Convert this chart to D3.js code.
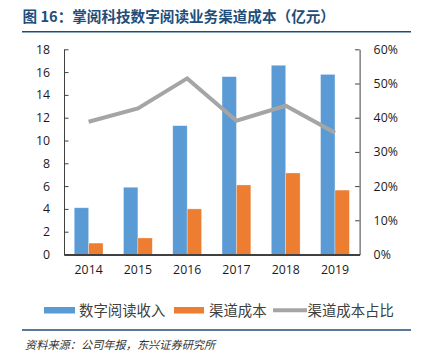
<!DOCTYPE html>
<html>
<head>
<meta charset="utf-8">
<script src="https://cdn.jsdelivr.net/npm/d3@7"></script>
<style>
  body { margin: 0; background: #fff; }
  svg { display: block; }
</style>
</head>
<body>
<div id="chart"></div>
<script>
var width = 421;
var height = 353;

// data
var years = ["2014", "2015", "2016", "2017", "2018", "2019"];
var readingIncome = [4.1, 5.9, 11.3, 15.6, 16.6, 15.8];
var channelCost = [1.0, 1.45, 4.0, 6.1, 7.15, 5.65];
var costShare = [0.388, 0.427, 0.515, 0.391, 0.435, 0.356];
var leftTicks = [0, 2, 4, 6, 8, 10, 12, 14, 16, 18];
var rightTicks = [0, 0.1, 0.2, 0.3, 0.4, 0.5, 0.6];

var seriesNames = ["数字阅读收入", "渠道成本", "渠道成本占比"];
var colors = ["#5B9BD5", "#ED7D31", "#A5A5A5"];

var plot = { left: 64, right: 359.6, top: 49.3, bottom: 254.5 };
var numFont = "'Open Sans', sans-serif";
var cjkFont = "'Noto Sans CJK SC', sans-serif";

var svg = d3
  .select("#chart")
  .append("svg")
  .attr("width", width)
  .attr("height", height);

// title + rules
svg
  .append("text")
  .attr("x", 22.5)
  .attr("y", 22)
  .attr("font-family", cjkFont)
  .attr("font-weight", "bold")
  .attr("font-size", 14.6)
  .attr("fill", "#1F4E79")
  .text("图 16：掌阅科技数字阅读业务渠道成本（亿元）");

svg.append("line")
  .attr("x1", 22).attr("x2", 411)
  .attr("y1", 31.7).attr("y2", 31.7)
  .attr("stroke", "#1F4E79").attr("stroke-width", 1.4);

svg.append("line")
  .attr("x1", 22).attr("x2", 411)
  .attr("y1", 330).attr("y2", 330)
  .attr("stroke", "#1F4E79").attr("stroke-width", 1.4);

svg
  .append("text")
  .attr("x", 25)
  .attr("y", 349)
  .attr("font-family", cjkFont)
  .attr("font-style", "italic")
  .attr("font-size", 11.2)
  .attr("fill", "#333")
  .text("资料来源：公司年报，东兴证券研究所");

// scales
var x = d3.scaleBand().domain(years).range([plot.left, plot.right]).padding(0);
var xInner = d3.scaleBand().domain([0, 1]).range([-14.4, 14.4]);
var yLeft = d3.scaleLinear().domain([0, 18]).range([plot.bottom, plot.top]);
var yRight = d3.scaleLinear().domain([0, 0.6]).range([plot.bottom, plot.top]);

// bars
var barData = [readingIncome, channelCost];
barData.forEach(function(values, s) {
  svg
    .selectAll(".bar" + s)
    .data(values)
    .enter()
    .append("rect")
    .attr("class", "bar" + s)
    .attr("x", function(d, i) {
      return x(years[i]) + x.bandwidth() / 2 + xInner(s);
    })
    .attr("width", xInner.bandwidth())
    .attr("y", function(d) { return yLeft(d); })
    .attr("height", function(d) { return yLeft(0) - yLeft(d); })
    .attr("fill", colors[s])
    .attr("stroke", "#fff")
    .attr("stroke-opacity", 0.5)
    .attr("stroke-width", 0.6);
});

// line
var line = d3
  .line()
  .x(function(d, i) { return x(years[i]) + x.bandwidth() / 2; })
  .y(function(d) { return yRight(d); });

svg
  .append("path")
  .datum(costShare)
  .attr("d", line)
  .attr("fill", "none")
  .attr("stroke", colors[2])
  .attr("stroke-width", 4);

// axes
var leftAxis = svg
  .append("g")
  .attr("transform", "translate(" + plot.left + ",0)")
  .call(d3.axisLeft(yLeft).tickValues(leftTicks).tickSizeInner(-4.5).tickSizeOuter(0).tickPadding(14));

var rightAxis = svg
  .append("g")
  .attr("transform", "translate(" + plot.right + ",0)")
  .call(d3.axisRight(yRight).tickValues(rightTicks).tickFormat(d3.format(".0%")).tickSizeInner(-4.5).tickSizeOuter(0).tickPadding(14));

var bottomAxis = svg
  .append("g")
  .attr("transform", "translate(0," + plot.bottom + ")")
  .call(d3.axisBottom(x).tickSize(0).tickPadding(11));

[leftAxis, rightAxis, bottomAxis].forEach(function(g) {
  g.selectAll("path, line").attr("stroke", "#404040");
  g.selectAll("text")
    .attr("font-family", numFont)
    .attr("font-size", 12.3)
    .attr("fill", "#1a1a1a");
});
bottomAxis.select(".domain").attr("stroke-width", 1.8);

// legend
var legend = svg.append("g").attr("font-family", cjkFont).attr("font-size", 14.4).attr("fill", "#404040");
var legendItems = [
  { x: 44, w: 31, tx: 79 },
  { x: 174, w: 30, tx: 209 },
  { x: 273, w: 34, tx: 307.5 }
];
legendItems.forEach(function(it, i) {
  if (i < 2) {
    legend.append("rect")
      .attr("x", it.x).attr("y", 307)
      .attr("width", it.w).attr("height", 6.5)
      .attr("fill", colors[i]);
  } else {
    legend.append("line")
      .attr("x1", it.x).attr("x2", it.x + it.w)
      .attr("y1", 310.2).attr("y2", 310.2)
      .attr("stroke", colors[i]).attr("stroke-width", 4);
  }
  legend.append("text")
    .attr("x", it.tx)
    .attr("y", 315.5)
    .text(seriesNames[i]);
});
</script>
</body>
</html>
